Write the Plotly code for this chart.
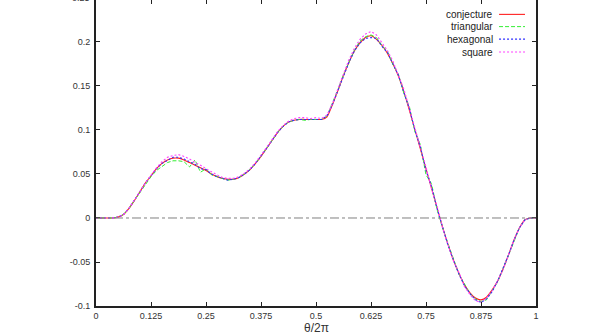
import plotly.graph_objects as go

# ── Data (theta / 2pi on a 1/80 grid) ───────────────────────────────────────
theta = [
    0.0, 0.0125, 0.025, 0.0375, 0.05, 0.0625, 0.075, 0.0875, 0.1, 0.1125,
    0.125, 0.1375, 0.15, 0.1625, 0.175, 0.1875, 0.2, 0.2125, 0.225, 0.2375,
    0.25, 0.2625, 0.275, 0.2875, 0.3, 0.3125, 0.325, 0.3375, 0.35, 0.3625,
    0.375, 0.3875, 0.4, 0.4125, 0.425, 0.4375, 0.45, 0.4625, 0.475, 0.4875,
    0.5, 0.5125, 0.525, 0.5375, 0.55, 0.5625, 0.575, 0.5875, 0.6, 0.6125,
    0.625, 0.6375, 0.65, 0.6625, 0.675, 0.6875, 0.7, 0.7125, 0.725, 0.7375,
    0.75, 0.7625, 0.775, 0.7875, 0.8, 0.8125, 0.825, 0.8375, 0.85, 0.8625,
    0.875, 0.8875, 0.9, 0.9125, 0.925, 0.9375, 0.95, 0.9625, 0.975, 0.9875,
    1.0,
]

conjecture = [
    0, 0, 0, 0, 0.001, 0.004, 0.011, 0.020, 0.030, 0.040,
    0.048, 0.056, 0.062, 0.066, 0.068, 0.068, 0.066, 0.063, 0.060, 0.057,
    0.054, 0.050, 0.047, 0.045, 0.044, 0.044, 0.046, 0.050, 0.055, 0.062,
    0.070, 0.079, 0.088, 0.097, 0.104, 0.109, 0.111, 0.112, 0.112, 0.112,
    0.112, 0.112, 0.115, 0.129, 0.145, 0.162, 0.177, 0.190, 0.199, 0.205,
    0.207, 0.203, 0.196, 0.187, 0.175, 0.161, 0.143, 0.122, 0.100, 0.078,
    0.056, 0.034, 0.012, -0.010, -0.030, -0.048, -0.063, -0.076, -0.085, -0.091,
    -0.093, -0.090, -0.082, -0.072, -0.058, -0.042, -0.025, -0.011, -0.002, 0,
    0,
]

triangular = [
    0, 0, 0, 0, 0.001, 0.004, 0.011, 0.020, 0.030, 0.039,
    0.047, 0.054, 0.059, 0.063, 0.065, 0.065, 0.064, 0.058, 0.066, 0.052,
    0.056, 0.049, 0.047, 0.045, 0.043, 0.044, 0.046, 0.050, 0.055, 0.062,
    0.070, 0.079, 0.088, 0.097, 0.104, 0.109, 0.111, 0.112, 0.111, 0.112,
    0.112, 0.112, 0.116, 0.130, 0.146, 0.163, 0.178, 0.191, 0.201, 0.206,
    0.208, 0.205, 0.196, 0.189, 0.174, 0.163, 0.141, 0.126, 0.098, 0.083,
    0.049, 0.039, 0.010, -0.011, -0.029, -0.047, -0.064, -0.075, -0.086, -0.092,
    -0.095, -0.093, -0.083, -0.073, -0.058, -0.042, -0.025, -0.011, -0.002, 0,
    0,
]

hexagonal = [
    0, 0, 0, 0, 0.001, 0.004, 0.011, 0.020, 0.030, 0.040,
    0.048, 0.056, 0.062, 0.066, 0.069, 0.069, 0.067, 0.064, 0.061, 0.056,
    0.055, 0.050, 0.047, 0.045, 0.043, 0.044, 0.046, 0.050, 0.055, 0.062,
    0.070, 0.079, 0.088, 0.097, 0.104, 0.109, 0.111, 0.112, 0.112, 0.112,
    0.112, 0.112, 0.116, 0.129, 0.145, 0.162, 0.177, 0.190, 0.199, 0.204,
    0.205, 0.204, 0.195, 0.188, 0.174, 0.162, 0.142, 0.124, 0.099, 0.080,
    0.054, 0.036, 0.011, -0.010, -0.031, -0.048, -0.064, -0.077, -0.086, -0.093,
    -0.096, -0.092, -0.084, -0.072, -0.058, -0.042, -0.025, -0.011, -0.002, 0,
    0,
]

square = [
    0, 0, 0, 0, 0.001, 0.004, 0.011, 0.020, 0.030, 0.040,
    0.049, 0.057, 0.064, 0.069, 0.071, 0.072, 0.070, 0.067, 0.063, 0.060,
    0.056, 0.052, 0.049, 0.046, 0.045, 0.045, 0.047, 0.051, 0.056, 0.063,
    0.071, 0.080, 0.089, 0.098, 0.105, 0.110, 0.113, 0.114, 0.114, 0.113,
    0.114, 0.113, 0.117, 0.130, 0.147, 0.164, 0.180, 0.193, 0.203, 0.209,
    0.212, 0.208, 0.199, 0.190, 0.178, 0.163, 0.146, 0.124, 0.103, 0.079,
    0.058, 0.033, 0.014, -0.011, -0.029, -0.049, -0.062, -0.078, -0.087, -0.094,
    -0.096, -0.091, -0.083, -0.072, -0.059, -0.042, -0.025, -0.011, -0.002, 0,
    0,
]

x_ticks = [0, 0.125, 0.25, 0.375, 0.5, 0.625, 0.75, 0.875, 1]
x_ticktext = ["0", "0.125", "0.25", "0.375", "0.5", "0.625", "0.75", "0.875", "1"]
y_ticks = [-0.1, -0.05, 0, 0.05, 0.1, 0.15, 0.2, 0.25]
y_ticktext = ["-0.1", "-0.05", "0", "0.05", "0.1", "0.15", "0.2", "0.25"]

for s in (conjecture, triangular, hexagonal, square):
    assert len(s) == len(theta)

# ── Styling ───────────────────────────────────────────────────────────────────
FONT = "Liberation Sans, Arial, Helvetica, sans-serif"
AXIS = "#222222"
X_RANGE = [0, 1]
Y_RANGE = [-0.1, 0.2477]   # frame top sits just above the visible page

# name, values, colour, dash, width, smoothed
series = [
    ("conjecture", conjecture, "#ff2020", "solid", 1.1, True),
    ("triangular", triangular, "#33ee33", "4px,2px", 1.0, False),
    ("hexagonal",  hexagonal,  "#3030ff", "2px,2px", 1.1, False),
    ("square",     square,     "#ff40ff", "2px,2px", 1.1, False),
]

fig = go.Figure()
for i, (name, ys, color, dash, width, smooth) in enumerate(series):
    on_top = (i == len(series) - 1)
    line = dict(color=color, dash=dash, width=width)
    if smooth:
        line.update(shape="spline", smoothing=0.6)
    fig.add_trace(go.Scatter(
        x=theta, y=ys, name=name, mode="lines", line=line,
        showlegend=False,
        xaxis="x2" if on_top else "x",
        yaxis="y2" if on_top else "y",
    ))

# dash-dot zero axis
fig.add_hline(y=0, line=dict(color="#808080", width=1, dash="dashdot"))

axis_common = dict(
    ticks="inside", ticklen=4, tickwidth=1.2, tickcolor=AXIS,
    showgrid=False, zeroline=False,
    tickfont=dict(family=FONT, size=9, color="#333333"),
)

fig.update_layout(
    width=606, height=334,
    margin=dict(l=96, r=70, t=0, b=28),
    paper_bgcolor="white", plot_bgcolor="white",
    font=dict(family=FONT, color="#333333"),
    xaxis=dict(
        range=X_RANGE, tickvals=x_ticks, ticktext=x_ticktext,
        showline=True, linecolor=AXIS, linewidth=2,
        **axis_common,
    ),
    yaxis=dict(
        range=Y_RANGE, tickvals=y_ticks, ticktext=y_ticktext,
        showline=True, linecolor=AXIS, linewidth=2, ticklabelstandoff=2,
        **axis_common,
    ),
    xaxis2=dict(
        range=X_RANGE, tickvals=x_ticks, overlaying="x", side="top",
        showline=False, showticklabels=False, **axis_common,
    ),
    yaxis2=dict(
        range=Y_RANGE, tickvals=y_ticks, overlaying="y", side="right",
        showline=True, linecolor=AXIS, linewidth=2, showticklabels=False,
        **axis_common,
    ),
    showlegend=False,
)

# x-axis title placed just under the tick labels
fig.add_annotation(
    xref="paper", yref="paper", x=0.5, y=-0.041, xanchor="center", yanchor="top",
    text="θ/2π", showarrow=False,
    font=dict(family=FONT, size=12, color="#333333"),
)

# partly clipped 0.25 label at the very top
fig.add_annotation(
    xref="paper", yref="paper", x=0, y=1.0065, xanchor="right", yanchor="middle",
    xshift=-4, text="0.25", showarrow=False,
    font=dict(family=FONT, size=9, color="#333333"),
)

# gnuplot-style key: right-aligned text, sample line on the right
key_rows = [0.953, 0.913, 0.872, 0.830]
for (name, _, color, dash, width, _s), ky in zip(series, key_rows):
    fig.add_annotation(
        xref="paper", yref="paper", x=0.907, y=ky, xanchor="right", yanchor="middle",
        text=name, showarrow=False,
        font=dict(family=FONT, size=10, color="#222222"),
    )
    fig.add_shape(
        type="line", xref="paper", yref="paper",
        x0=0.916, x1=0.975, y0=ky, y1=ky,
        line=dict(color=color, dash=dash, width=width),
    )

# drop the browser's default body margin so the figure sits at the page corner
fig.write_html(
    "out.html",
    config={"displayModeBar": False},
    post_script="document.body.style.margin='0';",
)
